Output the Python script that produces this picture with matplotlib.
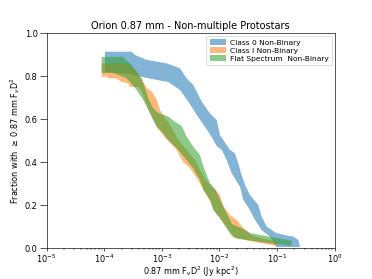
import numpy as np
import matplotlib
matplotlib.use("Agg")
import matplotlib.pyplot as plt

# band outlines: log10 flux, fraction
# Class 0
c0_up_logf = [-3.985, -3.522, -3.465, -3.262, -2.915, -2.685, -2.569, -2.454, -2.308, -2.164,
              -2.048, -1.991, -1.818, -1.731, -1.674, -1.615, -1.557, -1.471, -1.327, -1.268,
              -1.181, -1.008, -0.720, -0.633, -0.604]
c0_up_frac = [0.915, 0.915, 0.900, 0.877, 0.861, 0.838, 0.791, 0.760, 0.683, 0.628,
              0.597, 0.527, 0.458, 0.442, 0.396, 0.341, 0.295, 0.248, 0.202, 0.147,
              0.101, 0.070, 0.054, 0.039, 0.006]
c0_lo_logf = [-3.985, -3.552, -3.262, -3.089, -2.888, -2.685, -2.541, -2.395, -2.251, -2.135,
              -2.048, -1.961, -1.875, -1.788, -1.644, -1.587, -1.471, -1.384, -1.268, -1.124,
              -1.037, -1.008]
c0_lo_frac = [0.821, 0.811, 0.793, 0.784, 0.774, 0.737, 0.683, 0.621, 0.565, 0.518,
              0.476, 0.458, 0.411, 0.349, 0.287, 0.225, 0.178, 0.132, 0.085, 0.054,
              0.015, 0.006]

# Class I
c1_up_logf = [-4.043, -3.639, -3.552, -3.436, -3.321, -3.257, -3.170, -3.084, -3.032, -2.915,
              -2.806, -2.719, -2.569, -2.425, -2.338, -2.234, -2.112, -1.991, -1.934, -1.818,
              -1.701, -1.587, -1.419, -1.008, -1.008]
c1_up_frac = [0.861, 0.861, 0.849, 0.821, 0.774, 0.746, 0.728, 0.690, 0.644, 0.597,
              0.551, 0.504, 0.458, 0.411, 0.365, 0.318, 0.281, 0.248, 0.197, 0.155,
              0.132, 0.095, 0.057, 0.031, 0.0]
c1_lo_logf = [-4.043, -3.951, -3.928, -3.777, -3.708, -3.581, -3.552, -3.408, -3.349, -3.292,
              -3.205, -3.089, -2.980, -2.858, -2.742, -2.633, -2.511, -2.373, -2.251, -2.135,
              -2.060, -1.956, -1.852, -1.731, -1.471, -1.008]
c1_lo_frac = [0.799, 0.799, 0.791, 0.791, 0.776, 0.768, 0.751, 0.751, 0.729, 0.690,
              0.630, 0.566, 0.527, 0.490, 0.458, 0.402, 0.374, 0.318, 0.262, 0.206,
              0.164, 0.127, 0.085, 0.048, 0.034, 0.011]

# Flat Spectrum
fs_up_logf = [-4.043, -3.668, -3.621, -3.522, -3.436, -3.349, -3.292, -3.234, -3.148, -3.061,
              -2.888, -2.771, -2.655, -2.569, -2.454, -2.338, -2.281, -2.164, -2.060, -2.020,
              -1.934, -1.847, -1.783, -1.587, -1.471, -0.747, -0.747]
fs_up_frac = [0.891, 0.891, 0.877, 0.853, 0.822, 0.791, 0.745, 0.698, 0.652, 0.630,
              0.613, 0.589, 0.569, 0.520, 0.473, 0.434, 0.383, 0.303, 0.271, 0.243,
              0.194, 0.147, 0.113, 0.090, 0.071, 0.035, 0.011]
fs_lo_logf = [-4.043, -3.841, -3.621, -3.552, -3.436, -3.321, -3.205, -3.089, -2.980, -2.915,
              -2.742, -2.569, -2.454, -2.338, -2.281, -2.164, -2.112, -1.991, -1.875, -1.783,
              -1.701, -1.528, -1.297, -0.747]
fs_lo_frac = [0.816, 0.816, 0.793, 0.774, 0.737, 0.690, 0.628, 0.566, 0.537, 0.512,
              0.466, 0.411, 0.372, 0.318, 0.271, 0.225, 0.178, 0.141, 0.095, 0.057,
              0.046, 0.039, 0.029, 0.011]

bands = [
    ("Class 0 Non-Binary", "tab:blue", c0_up_logf, c0_up_frac, c0_lo_logf, c0_lo_frac),
    ("Class I Non-Binary", "tab:orange", c1_up_logf, c1_up_frac, c1_lo_logf, c1_lo_frac),
    ("Flat Spectrum  Non-Binary", "tab:green", fs_up_logf, fs_up_frac, fs_lo_logf, fs_lo_frac),
]

fig, ax = plt.subplots(figsize=(6.4, 4.8), dpi=58.125)

for label, col, uf, uy, lf, ly in bands:
    xs = 10 ** np.concatenate([uf, lf[::-1]])
    ys = np.concatenate([uy, ly[::-1]])
    ax.fill(xs, ys, color=col, alpha=0.55, lw=0, label=label)

ax.set_xscale("log")
ax.set_xlim(1e-5, 1)
ax.set_ylim(0, 1)
ax.set_title("Orion 0.87 mm - Non-multiple Protostars")
ax.set_xlabel(r"0.87 mm F$_\nu$D$^2$ (Jy kpc$^2$)", labelpad=-1)
ax.set_ylabel(r"Fraction with $\geq$ 0.87 mm F$_\nu$D$^2$")
ax.tick_params(axis="y", which="major", length=9, pad=2)
ax.tick_params(axis="x", which="major", length=3.5, pad=2)
ax.tick_params(axis="x", which="minor", length=3)
ax.legend(loc="upper right", fontsize=9.3, labelspacing=0.22, handlelength=2.2,
          handletextpad=0.5, borderpad=0.45, borderaxespad=0.35)

fig.savefig("out.png", dpi=58.125)
